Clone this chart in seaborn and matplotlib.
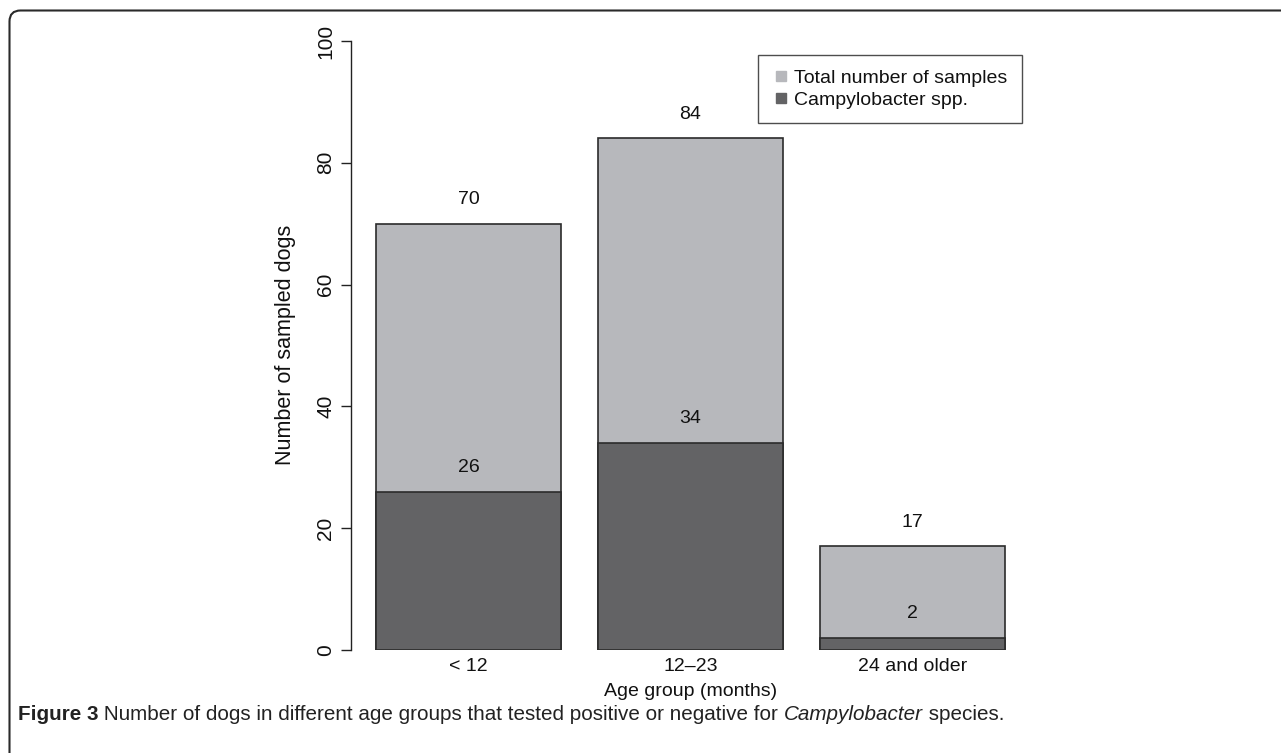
import seaborn as sns
import matplotlib.pyplot as plt
import pandas as pd
from matplotlib.patches import FancyBboxPatch
from matplotlib.lines import Line2D

sns.set_theme(style="white")
plt.rcParams['font.family'] = ['Liberation Sans', 'DejaVu Sans']

age_groups = ["< 12", "12\u201323", "24 and older"]
total_samples = [70, 84, 17]
campylobacter = [26, 34, 2]

light = "#b7b8bc"
dark = "#636365"
edge = "#2b2b2b"
txt = "#111111"

df = pd.DataFrame({"Age": age_groups, "Total": total_samples, "Campy": campylobacter})

fig = plt.figure(figsize=(12.81, 7.53), dpi=100)
# plot region: x 351..1030 px, y 41..650 px (from top)
ax = fig.add_axes([351 / 1281, 103 / 753, 679 / 1281, 609 / 753])

sns.barplot(data=df, x="Age", y="Total", color=light, width=0.833,
            edgecolor=edge, linewidth=1.2, saturation=1, ax=ax)
sns.barplot(data=df, x="Age", y="Campy", color=dark, width=0.833,
            edgecolor=edge, linewidth=1.2, saturation=1, ax=ax)

for i, (t, c) in enumerate(zip(total_samples, campylobacter)):
    ax.text(i, t + 4, str(t), ha="center", va="center", fontsize=14, color=txt)
    ax.text(i, c + 4, str(c), ha="center", va="center", fontsize=14, color=txt)

ax.set_xlim(-0.529, 2.529)
ax.set_ylim(0, 100)
ax.set_yticks([0, 20, 40, 60, 80, 100])
ax.set_yticklabels(["0", "20", "40", "60", "80", "100"], rotation=90, va="center",
                   fontsize=15, color=txt)
ax.tick_params(axis="y", left=True, length=7.5, width=1, color="#222", pad=4)
ax.tick_params(axis="x", bottom=False, labelsize=14, labelcolor=txt, pad=0)
for s in ["top", "right", "bottom"]:
    ax.spines[s].set_visible(False)
ax.spines["left"].set_color("#222")
ax.spines["left"].set_linewidth(1)

ax.set_xlabel("Age group (months)", fontsize=14, color=txt)
ax.xaxis.set_label_coords(0.5, (650 - 692) / 609)
ax.xaxis.label.set_va("center")
ax.set_ylabel("Number of sampled dogs", fontsize=15.5, color=txt)
ax.yaxis.set_label_coords((285 - 351) / 679, (650 - 345) / 609)
ax.yaxis.label.set_va("center")

handles = [Line2D([], [], marker="s", linestyle="", markersize=7, color=light),
           Line2D([], [], marker="s", linestyle="", markersize=7, color=dark)]
leg = ax.legend(handles, ["Total number of samples", "Campylobacter spp."],
                loc="upper right", bbox_to_anchor=((1022 - 351) / 679, (650 - 55) / 609),
                fontsize=14, frameon=True, fancybox=False, edgecolor="#222",
                handletextpad=0.3, borderpad=0.75, labelspacing=0.2, handlelength=0.8,
                borderaxespad=0)
leg.get_frame().set_linewidth(1)
for t in leg.get_texts():
    t.set_color(txt)

# rounded page frame (only top and left edges fall inside the canvas)
frame = FancyBboxPatch((0.095, -1.0), 20, 7.425 + 1.0,
                       boxstyle="round,pad=0,rounding_size=0.11",
                       transform=fig.dpi_scale_trans, fill=False,
                       edgecolor="#2a2a2a", linewidth=1.5)
fig.add_artist(frame)

# caption
pieces = [("Figure 3", "bold", "normal"),
          (" Number of dogs in different age groups that tested positive or negative for ", "normal", "normal"),
          ("Campylobacter", "normal", "italic"),
          (" species.", "normal", "normal")]
cap_font = ['Liberation Sans Narrow', 'Liberation Sans', 'DejaVu Sans']
renderer = fig.canvas.get_renderer()

def draw_caption(size):
    x = 18
    texts = []
    for s, w, st in pieces:
        t = fig.text(x / 1281, (753 - 715) / 753, s, fontsize=size, fontweight=w,
                     fontstyle=st, family=cap_font, color="#222", va="center", ha="left")
        x += t.get_window_extent(renderer).width
        texts.append(t)
    return texts, x

texts, end = draw_caption(13)
scale = (1000 - 18) / (end - 18)
for t in texts:
    t.remove()
draw_caption(13 * scale)

fig.savefig("out.png", dpi=100)
